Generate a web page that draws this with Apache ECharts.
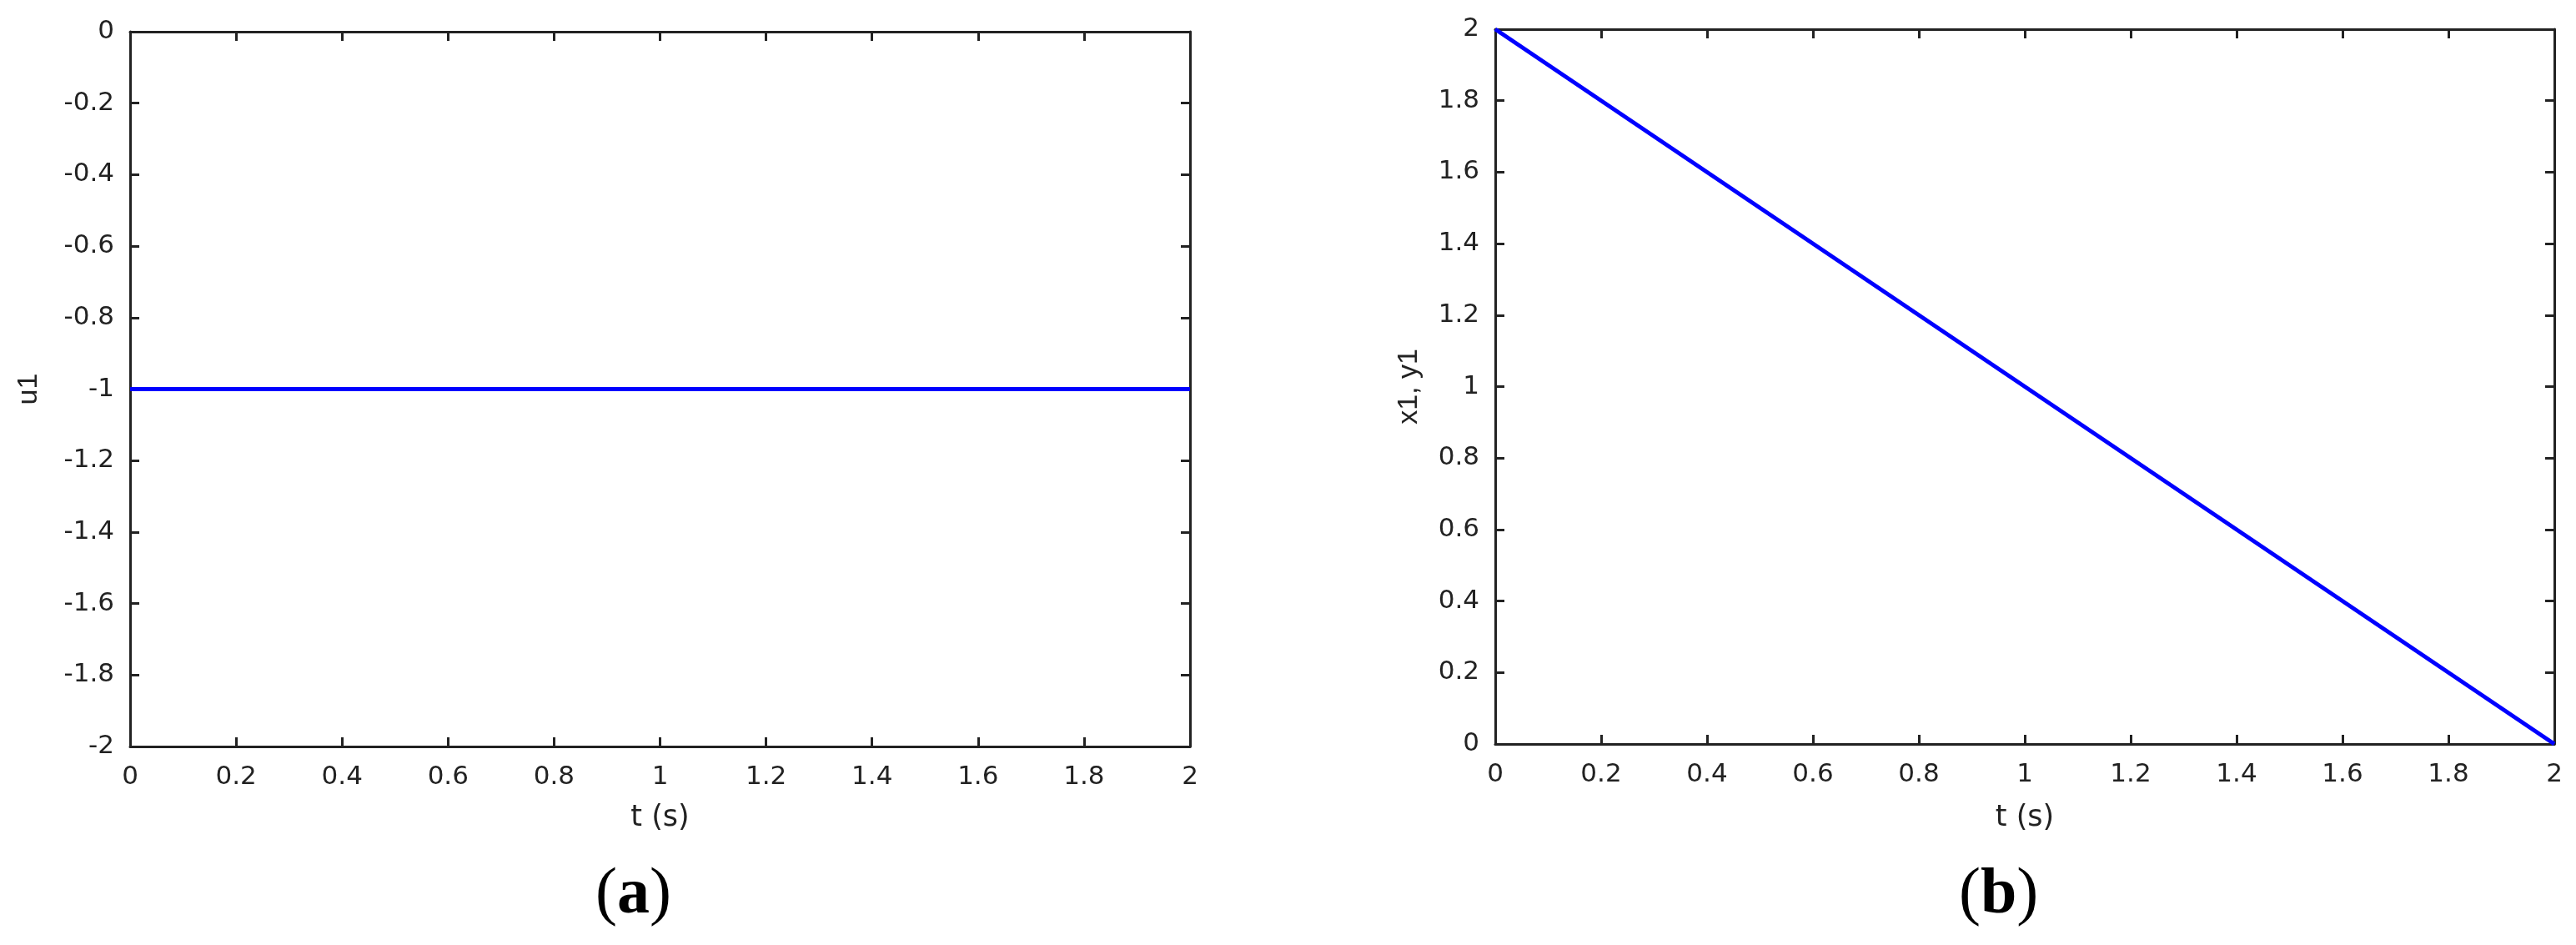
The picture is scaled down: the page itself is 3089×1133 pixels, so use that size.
<!DOCTYPE html>
<html><head><meta charset="utf-8">
<script src="https://cdn.jsdelivr.net/npm/echarts@6/dist/echarts.min.js"></script>
<style>html,body{margin:0;padding:0;background:#fff}#c{width:3089px;height:1133px}</style>
</head><body><div id="c"></div>
<script>
const timeA = [0, 2];
const u1 = [-1, -1];
const timeB = [0, 2];
const x1y1 = [2, 0];
const panelLabels = ['a', 'b'];

const ink = '#222';
const tickFont = {color: ink, fontSize: 31, fontFamily: 'DejaVu Sans, sans-serif'};
const xNameFont = {color: ink, fontSize: 35, fontFamily: 'DejaVu Sans, sans-serif'};
const yNameFont = {color: ink, fontSize: 34, fontFamily: 'Liberation Sans, Arial, sans-serif'};
const grids = [
  {left: 156, top: 38, width: 1271, height: 857},
  {left: 1793, top: 35, width: 1270, height: 857}
];
function xAx(gi, pos, show, gap) {
  return {type: 'value', gridIndex: gi, position: pos, min: 0, max: 2, interval: 0.2,
    axisLine: {show: true, onZero: false, lineStyle: {color: ink, width: 3}},
    axisTick: {show: true, inside: true, length: 11, lineStyle: {color: ink, width: 3}},
    axisLabel: show ? Object.assign({margin: 21}, tickFont) : {show: false},
    splitLine: {show: false},
    name: show ? 't (s)' : '', nameLocation: 'middle', nameGap: gap || 0,
    nameTextStyle: xNameFont};
}
function yAx(gi, pos, show, min, max, name, gap) {
  return {type: 'value', gridIndex: gi, position: pos, min: min, max: max, interval: 0.2,
    axisLine: {show: true, onZero: false, lineStyle: {color: ink, width: 3}},
    axisTick: {show: true, inside: true, length: 11, lineStyle: {color: ink, width: 3}},
    axisLabel: show ? Object.assign({margin: 19}, tickFont) : {show: false},
    splitLine: {show: false},
    name: show ? name : '', nameLocation: 'middle', nameGap: gap || 0,
    nameTextStyle: yNameFont};
}
const serif = 'Liberation Serif, Times New Roman, serif';
function panel(letter, left) {
  return {type: 'text', left: left, top: 1035, style: {
    text: '{p|(}{b|' + letter + '}{p|)}', rich: {
      p: {fontFamily: serif, fontSize: 78, fill: '#000'},
      b: {fontFamily: serif, fontSize: 78, fontWeight: 'bold', fill: '#000'}}}};
}
const option = {
  animation: false,
  backgroundColor: '#fff',
  grid: grids,
  xAxis: [xAx(0, 'bottom', true, 68), xAx(0, 'top', false), xAx(1, 'bottom', true, 71), xAx(1, 'top', false)],
  yAxis: [yAx(0, 'left', true, -2, 0, 'u1', 104), yAx(0, 'right', false, -2, 0, ''),
          yAx(1, 'left', true, 0, 2, 'x1, y1', 86), yAx(1, 'right', false, 0, 2, '')],
  series: [
    {type: 'line', xAxisIndex: 0, yAxisIndex: 0, data: timeA.map((t, i) => [t, u1[i]]),
     showSymbol: false, lineStyle: {color: '#0000ff', width: 5}},
    {type: 'line', xAxisIndex: 2, yAxisIndex: 2, data: timeB.map((t, i) => [t, x1y1[i]]),
     showSymbol: false, lineStyle: {color: '#0000ff', width: 5}}
  ],
  graphic: [panel(panelLabels[0], 714), panel(panelLabels[1], 2349)]
};
const chart = echarts.init(document.getElementById('c'), null, {renderer: 'canvas'});
chart.setOption(option);
</script></body></html>
